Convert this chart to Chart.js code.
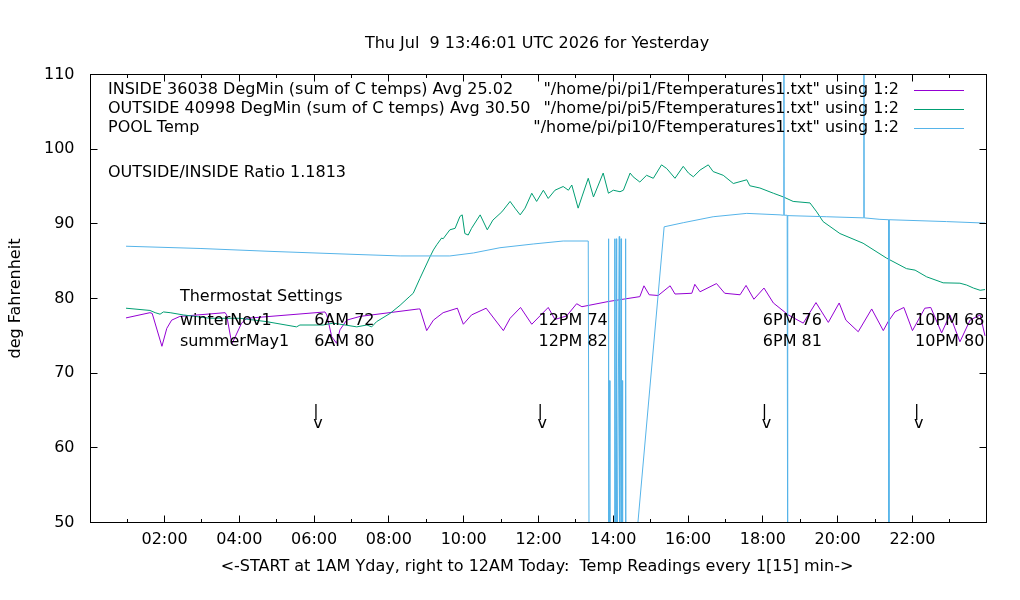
<!DOCTYPE html>
<html>
<head>
<meta charset="utf-8">
<title>Temperatures for Yesterday</title>
<script src="https://cdn.jsdelivr.net/npm/chart.js@4.4.1/dist/chart.umd.min.js"></script>
<style>
  html, body { margin: 0; padding: 0; background: #fff; }
  canvas { display: block; }
</style>
</head>
<body>
<canvas id="tempChart" width="1020" height="600"></canvas>
<script>
/* ---- readings (hours since midnight, deg F) ---- */

const insideHours = [0.97, 1.61, 1.67, 1.93, 2.06, 2.19, 2.41, 3.62, 3.66, 3.80, 4.06, 4.20,
  6.29, 6.34, 6.47, 6.60, 6.69, 6.87, 7.23, 8.79, 8.83, 9.01, 9.19, 9.45, 9.83, 9.99,
  10.21, 10.60, 11.06, 11.24, 11.52, 11.82, 12.26, 12.44, 12.75, 13.02, 13.16, 13.87,
  14.71, 14.82, 14.96, 15.20, 15.52, 15.65, 16.10, 16.18, 16.32, 16.76, 16.98, 17.39,
  17.55, 17.76, 18.03, 18.28, 18.68, 19.08, 19.42, 19.75, 20.04, 20.22, 20.55, 20.91,
  21.22, 21.35, 21.53, 21.77, 22.00, 22.33, 22.49, 22.78, 23.00, 23.27, 23.54, 23.81, 23.94];
const insideTemps = [77.4, 78.1, 78.0, 73.6, 76.0, 77.1, 77.6, 78.1, 77.8, 73.9, 76.7, 77.35,
  78.2, 77.8, 74.9, 74.0, 75.8, 77.1, 77.6, 78.6, 78.6, 75.7, 77.1, 78.1, 78.7, 76.55,
  77.8, 78.7, 75.7, 77.35, 78.8, 76.55, 78.8, 77.2, 77.65, 79.3, 78.9, 79.6,
  80.25, 81.7, 80.5, 80.4, 81.7, 80.6, 80.7, 81.9, 80.9, 82.0, 80.7, 80.5,
  81.75, 79.9, 81.4, 79.4, 77.8, 76.7, 79.45, 76.8, 79.4, 77.1, 75.55, 78.6,
  75.7, 76.9, 78.2, 78.8, 75.7, 78.7, 78.8, 75.4, 77.8, 74.2, 77.1, 77.8, 75.0];

const outsideHours = [0.97, 1.61, 1.75, 1.88, 1.97, 2.15, 2.50, 3.22, 4.02, 4.73, 5.53, 5.62,
  6.24, 6.51, 7.14, 7.41, 7.54, 7.67, 8.03, 8.30, 8.56, 8.65, 8.83, 9.10, 9.19, 9.28, 9.41,
  9.45, 9.63, 9.77, 9.90, 9.96, 10.03, 10.12, 10.21, 10.44, 10.63, 10.78, 11.02, 11.24,
  11.37, 11.51, 11.64, 11.82, 11.95, 12.13, 12.26, 12.44, 12.66, 12.80, 12.89, 13.06,
  13.16, 13.33, 13.47, 13.60, 13.73, 13.87, 14.00, 14.18, 14.27, 14.45, 14.53, 14.71,
  14.89, 15.07, 15.29, 15.43, 15.65, 15.87, 16.01, 16.14, 16.32, 16.54, 16.67, 16.94,
  17.21, 17.57, 17.65, 17.92, 18.28, 18.55, 18.81, 19.26, 19.44, 19.61, 20.06, 20.68,
  21.31, 21.84, 22.07, 22.38, 22.74, 22.82, 23.27, 23.45, 23.63, 23.81, 23.94];
const outsideTemps = [78.7, 78.4, 78.1, 77.9, 78.2, 78.1, 77.8, 77.35, 77.35, 76.9, 76.2, 76.45,
  76.45, 76.7, 76.2, 76.45, 76.2, 76.9, 78.0, 79.1, 80.3, 80.7, 82.7, 85.6, 86.5, 87.2, 88.1,
  88.0, 89.2, 89.4, 91.0, 91.2, 88.7, 88.5, 89.4, 91.2, 89.2, 90.5, 91.6, 93.0,
  92.1, 91.2, 92.1, 94.1, 93.0, 94.5, 93.4, 94.5, 95.0, 94.5, 95.2, 92.1,
  93.6, 96.1, 93.6, 95.2, 96.8, 94.1, 94.5, 94.3, 94.5, 96.8, 96.3, 95.6,
  96.5, 96.1, 97.9, 97.4, 96.1, 97.7, 96.8, 96.3, 97.2, 97.9, 97.0, 96.5,
  95.4, 95.9, 95.1, 94.8, 94.1, 93.6, 93.0, 92.8, 91.6, 90.3, 88.7, 87.4,
  85.4, 84.0, 83.8, 82.9, 82.25, 82.1, 82.05, 81.8, 81.4, 81.1, 81.2];

const poolHours = [0.97, 2.95, 4.90, 7.12, 8.30, 9.63, 10.26, 10.97, 11.86, 12.66, 13.33, 13.36,
  13.86, 13.87, 13.88, 13.90, 13.91, 14.03, 14.04, 14.05, 14.08, 14.09, 14.16, 14.17,
  14.21, 14.22, 14.24, 14.25, 14.32, 14.33, 14.34, 15.36, 15.87, 16.32, 16.67, 17.57,
  18.46, 18.55, 18.56, 18.57, 18.65, 18.66, 18.67, 19.71, 20.69, 20.70, 20.71, 21.13,
  21.36, 21.37, 21.38, 22.91, 23.94];
const poolTemps = [87.0, 86.7, 86.3, 85.9, 85.7, 85.7, 86.1, 86.8, 87.3, 87.7, 87.7, 32,
  32, 88.0, 32, 69.0, 32, 32, 88.0, 32, 88.0, 32, 88.3, 32,
  88.0, 32, 69.0, 32, 32, 88.0, 32, 89.6, 90.15, 90.6, 90.95, 91.4,
  91.2, 91.15, 150, 91.15, 91.15, 32, 91.1, 90.95, 90.8, 150, 90.8, 90.6,
  90.55, 32, 90.55, 90.3, 90.1];

const xTickHours = [2, 4, 6, 8, 10, 12, 14, 16, 18, 20, 22];
const yTickValues = [50, 60, 70, 80, 90, 100, 110];

const thermostatHours = [6, 12, 18, 22.07];
const winterSettings = ['6AM 72', '12PM 74', '6PM 76', '10PM 68'];
const summerSettings = ['6AM 80', '12PM 82', '6PM 81', '10PM 80'];

const seriesNotes = [
  'INSIDE 36038 DegMin (sum of C temps) Avg 25.02',
  'OUTSIDE 40998 DegMin (sum of C temps) Avg 30.50',
  'POOL Temp'
];

/* ---- chart ---- */

const FONT = '16px "DejaVu Sans", sans-serif';
Chart.defaults.font.family = '"DejaVu Sans", sans-serif';
Chart.defaults.font.size = 16;
Chart.defaults.color = '#000';

function points(hours, temps) {
  return hours.map((h, i) => ({ x: h, y: temps[i] }));
}

function lineSet(label, color, data, order) {
  return { label, data, borderColor: color, backgroundColor: color, borderWidth: 1,
           pointRadius: 0, tension: 0, fill: false, order };
}

// gnuplot style: boxed plot, inward ticks, labels and key drawn inside the frame
const gnuplotDecor = {
  id: 'gnuplotDecor',
  afterDatasetsDraw(chart) {
    const { ctx, chartArea: a, scales: { x, y } } = chart;
    ctx.save();
    ctx.strokeStyle = '#000';
    ctx.lineWidth = 1;
    ctx.strokeRect(a.left, a.top, a.right - a.left, a.bottom - a.top);

    ctx.beginPath();
    for (let h = 1; h < 24; h++) {
      const px = Math.floor(x.getPixelForValue(h)) + 0.5;
      const len = h % 2 === 0 ? 7 : 3.5;
      ctx.moveTo(px, a.bottom); ctx.lineTo(px, a.bottom - len);
      ctx.moveTo(px, a.top); ctx.lineTo(px, a.top + len);
    }
    yTickValues.forEach(v => {
      const py = Math.floor(y.getPixelForValue(v)) + 0.5;
      ctx.moveTo(a.left, py); ctx.lineTo(a.left + 7, py);
      ctx.moveTo(a.right, py); ctx.lineTo(a.right - 7, py);
    });
    ctx.stroke();

    ctx.font = FONT;
    ctx.fillStyle = '#000';
    ctx.textBaseline = 'middle';

    // title and axis titles
    ctx.textAlign = 'center';
    ctx.fillText('Thu Jul  9 13:46:01 UTC 2026 for Yesterday', 537, 44);
    ctx.fillText('<-START at 1AM Yday, right to 12AM Today:  Temp Readings every 1[15] min->', 537, 567);
    ctx.save();
    ctx.translate(16, (a.top + a.bottom) / 2);
    ctx.rotate(-Math.PI / 2);
    ctx.fillText('deg Fahrenheit', 0, 0);
    ctx.restore();

    // key: notes on the left, file titles and samples on the right
    const rows = [90, 109, 128];
    chart.data.datasets.forEach((ds, i) => {
      ctx.textAlign = 'left';
      ctx.fillText(seriesNotes[i], 108, rows[i]);
      ctx.textAlign = 'right';
      ctx.fillText(ds.label, 899, rows[i]);
      ctx.strokeStyle = ds.borderColor;
      ctx.beginPath();
      ctx.moveTo(914, rows[i] + 0.5);
      ctx.lineTo(964, rows[i] + 0.5);
      ctx.stroke();
    });
    ctx.textAlign = 'left';
    ctx.fillText('OUTSIDE/INSIDE Ratio 1.1813', 108, 172.5);

    // thermostat schedule
    const sx = x.getPixelForValue(2.41);
    ctx.fillText('Thermostat Settings', sx, y.getPixelForValue(80.2));
    ctx.fillText('winterNov1', sx, y.getPixelForValue(77.05));
    ctx.fillText('summerMay1', sx, y.getPixelForValue(74.17));
    thermostatHours.forEach((h, i) => {
      const tx = x.getPixelForValue(h);
      ctx.textBaseline = 'middle';
      ctx.fillText(winterSettings[i], tx, y.getPixelForValue(77.05));
      ctx.fillText(summerSettings[i], tx, y.getPixelForValue(74.17));
      ctx.textBaseline = 'alphabetic';
      ctx.fillText('|', tx - 1, y.getPixelForValue(64.26));
      ctx.fillText('v', tx - 1, y.getPixelForValue(62.65));
    });
    ctx.restore();
  }
};

new Chart(document.getElementById('tempChart'), {
  type: 'line',
  data: {
    datasets: [
      lineSet('"/home/pi/pi1/Ftemperatures1.txt" using 1:2', '#9400d3', points(insideHours, insideTemps), 3),
      lineSet('"/home/pi/pi5/Ftemperatures1.txt" using 1:2', '#009e73', points(outsideHours, outsideTemps), 2),
      lineSet('"/home/pi/pi10/Ftemperatures1.txt" using 1:2', '#56b4e9', points(poolHours, poolTemps), 1)
    ]
  },
  options: {
    responsive: false,
    animation: false,
    devicePixelRatio: 1,
    layout: { padding: { top: 74.5, right: 33.5, left: 0, bottom: 0 } },
    plugins: { legend: { display: false }, tooltip: { enabled: false } },
    scales: {
      x: {
        type: 'linear', min: 0.02, max: 23.98,
        afterBuildTicks: s => { s.ticks = xTickHours.map(v => ({ value: v })); },
        afterFit: s => { s.height = 77.5; },
        grid: { display: false, drawTicks: false },
        border: { display: false },
        ticks: { autoSkip: false, maxRotation: 0, padding: 8,
                 callback: v => String(v).padStart(2, '0') + ':00' }
      },
      y: {
        min: 50, max: 110,
        afterBuildTicks: s => { s.ticks = yTickValues.map(v => ({ value: v })); },
        afterFit: s => { s.width = 90.5; },
        grid: { display: false, drawTicks: false },
        border: { display: false },
        ticks: { padding: 16 }
      }
    }
  },
  plugins: [gnuplotDecor]
});
</script>
</body>
</html>
